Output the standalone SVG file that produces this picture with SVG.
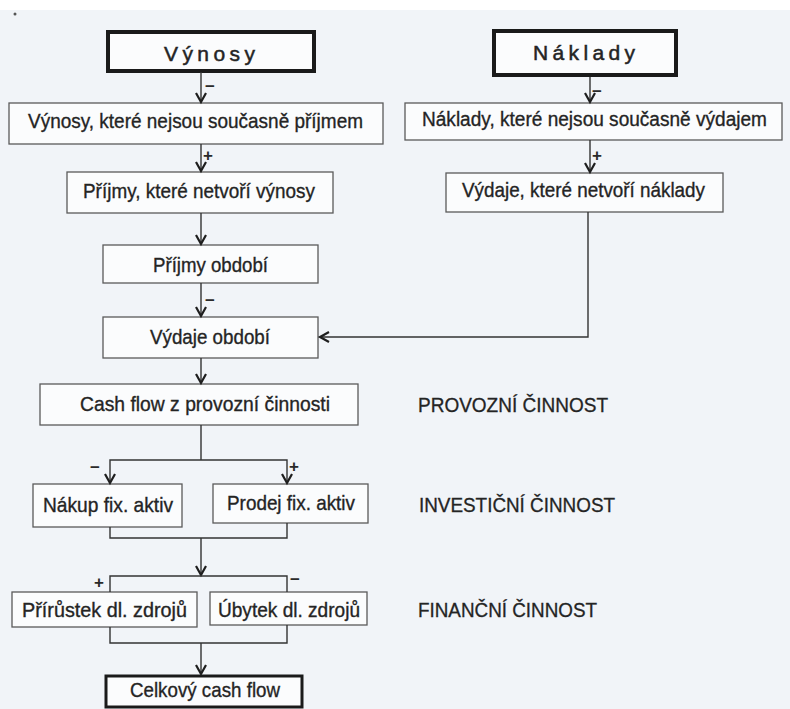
<svg xmlns="http://www.w3.org/2000/svg" xmlns:xlink="http://www.w3.org/1999/xlink" width="790" height="709" viewBox="0 0 790 709">
  <defs>
    <!-- open V arrowheads, tip at the origin -->
    <path id="ahDown" d="M-5,-9 L0,0 L5,-9" fill="none" stroke="#1e1e1e" stroke-width="2.2" stroke-linejoin="miter"/>
    <path id="ahLeft" d="M9,-5 L0,0 L9,5" fill="none" stroke="#1e1e1e" stroke-width="2.2" stroke-linejoin="miter"/>
    <style>
      .box { fill: #fbfcfd; stroke: #5a5a5a; stroke-width: 1.3; }
      .thick { fill: #fbfcfd; stroke: #1a1a1a; stroke-width: 4; }
      .thick3 { fill: #fbfcfd; stroke: #1a1a1a; stroke-width: 3; }
      .t { font-family: "Liberation Sans", Arial, sans-serif; font-size: 21px; fill: #242424; stroke: #242424; stroke-width: 0.35; }
      .h { font-family: "Liberation Sans", Arial, sans-serif; font-size: 21px; fill: #242424; stroke: #242424; stroke-width: 0.5; }
      .lab { font-family: "Liberation Sans", Arial, sans-serif; font-size: 20px; fill: #242424; stroke: #242424; stroke-width: 0.3; }
      .sg { font-family: "Liberation Sans", Arial, sans-serif; font-size: 17px; font-weight: bold; fill: #2a2a2a; }
      .ln { fill: none; stroke: #333; stroke-width: 1.4; }
    </style>
  </defs>

  <!-- page -->
  <rect x="0" y="0" width="790" height="709" fill="#f1f4f8"/>
  <rect x="0" y="0" width="790" height="10" fill="#ffffff"/>
  <circle cx="15" cy="14" r="1.5" fill="#555"/>

  <g id="vynosy">
    <rect class="thick" x="108" y="32" width="206" height="39"/>
    <text class="h" x="164" y="61" textLength="91" lengthAdjust="spacing">Výnosy</text>
  </g>
  <g id="naklady">
    <rect class="thick" x="494" y="31" width="182" height="44"/>
    <text class="h" x="533" y="60" textLength="102" lengthAdjust="spacing">Náklady</text>
  </g>
  <g id="vynosy-neprijem">
    <rect class="box" x="9" y="103" width="374" height="41"/>
    <text class="t" x="28" y="128" font-size="21" textLength="335" lengthAdjust="spacingAndGlyphs">Výnosy, které nejsou současně příjmem</text>
  </g>
  <g id="naklady-nevydaj">
    <rect class="box" x="405" y="103" width="377" height="37"/>
    <text class="t" transform="translate(422,126) scale(0.88,1)" x="0" y="0" font-size="21" textLength="392" lengthAdjust="spacingAndGlyphs">Náklady, které nejsou současně výdajem</text>
  </g>
  <g id="prijmy-nevynosy">
    <rect class="box" x="67" y="172" width="266" height="41"/>
    <text class="t" x="83" y="198" textLength="232" lengthAdjust="spacingAndGlyphs">Příjmy, které netvoří výnosy</text>
  </g>
  <g id="vydaje-nenaklady">
    <rect class="box" x="446" y="173" width="277" height="39"/>
    <text class="t" x="462" y="197" textLength="243" lengthAdjust="spacingAndGlyphs">Výdaje, které netvoří náklady</text>
  </g>
  <g id="prijmy-obdobi">
    <rect class="box" x="103" y="245" width="215" height="38"/>
    <text class="t" x="153" y="272" textLength="115" lengthAdjust="spacingAndGlyphs">Příjmy období</text>
  </g>
  <g id="vydaje-obdobi">
    <rect class="box" x="103" y="317" width="215" height="41"/>
    <text class="t" x="150" y="344" textLength="120" lengthAdjust="spacingAndGlyphs">Výdaje období</text>
  </g>
  <g id="cf-provozni">
    <rect class="box" x="40" y="384" width="318" height="41"/>
    <text class="t" x="80" y="411" font-size="20" textLength="250" lengthAdjust="spacingAndGlyphs">Cash flow z provozní činnosti</text>
  </g>
  <g id="nakup">
    <rect class="box" x="33" y="484" width="149" height="43"/>
    <text class="t" x="43" y="512" textLength="130" lengthAdjust="spacingAndGlyphs">Nákup fix. aktiv</text>
  </g>
  <g id="prodej">
    <rect class="box" x="213" y="484" width="155" height="39"/>
    <text class="t" x="227" y="510" textLength="128" lengthAdjust="spacingAndGlyphs">Prodej fix. aktiv</text>
  </g>
  <g id="prirustek">
    <rect class="box" x="12" y="592" width="185" height="35"/>
    <text class="t" x="22" y="617" font-size="20" textLength="165" lengthAdjust="spacingAndGlyphs">Přírůstek dl. zdrojů</text>
  </g>
  <g id="ubytek">
    <rect class="box" x="210" y="592" width="157" height="33"/>
    <text class="t" x="218" y="617" font-size="20" textLength="142" lengthAdjust="spacingAndGlyphs">Úbytek dl. zdrojů</text>
  </g>
  <g id="celkovy">
    <rect class="thick3" x="106" y="676" width="196" height="31"/>
    <text class="t" x="130" y="697" font-size="19" textLength="150" lengthAdjust="spacingAndGlyphs">Celkový cash flow</text>
  </g>

  <!-- connectors, drawn above the boxes so the arrow tips touch the edges -->
  <g id="connectors">
    <path class="ln" d="M201,72 V102"/>
    <use xlink:href="#ahDown" href="#ahDown" x="201" y="102"/>
    <path class="ln" d="M590,77 V102"/>
    <use xlink:href="#ahDown" href="#ahDown" x="590" y="102"/>
    <path class="ln" d="M201,144 V171"/>
    <use xlink:href="#ahDown" href="#ahDown" x="201" y="171"/>
    <path class="ln" d="M590,140 V172"/>
    <use xlink:href="#ahDown" href="#ahDown" x="590" y="172"/>
    <path class="ln" d="M201,213 V244"/>
    <use xlink:href="#ahDown" href="#ahDown" x="201" y="244"/>
    <path class="ln" d="M201,283 V316"/>
    <use xlink:href="#ahDown" href="#ahDown" x="201" y="316"/>
    <path class="ln" d="M588,212 V337 H320"/>
    <use xlink:href="#ahLeft" href="#ahLeft" x="320" y="337"/>
    <path class="ln" d="M201,358 V383"/>
    <use xlink:href="#ahDown" href="#ahDown" x="201" y="383"/>
    <!-- investing split -->
    <path class="ln" d="M201,425 V460 M110,483 V460 H287 V483"/>
    <use xlink:href="#ahDown" href="#ahDown" x="110" y="483"/>
    <use xlink:href="#ahDown" href="#ahDown" x="287" y="483"/>
    <!-- investing merge -->
    <path class="ln" d="M110,527 V538 H287 V523 M201,538 V575"/>
    <use xlink:href="#ahDown" href="#ahDown" x="201" y="575"/>
    <!-- financing split -->
    <path class="ln" d="M110,592 V576 H287 V592"/>
    <!-- financing merge -->
    <path class="ln" d="M110,627 V643 H287 V625 M201,643 V674"/>
    <use xlink:href="#ahDown" href="#ahDown" x="201" y="674"/>

    <!-- signs -->
    <text class="sg" x="205" y="92">−</text>
    <text class="sg" x="592" y="97">−</text>
    <text class="sg" x="203" y="161">+</text>
    <text class="sg" x="592" y="161">+</text>
    <text class="sg" x="205" y="306">−</text>
    <text class="sg" x="90" y="473">−</text>
    <text class="sg" x="289" y="472">+</text>
    <text class="sg" x="94" y="588">+</text>
    <text class="sg" x="290" y="585">−</text>
  </g>

  <!-- activity labels -->
  <text class="lab" x="418" y="412" textLength="190" lengthAdjust="spacingAndGlyphs">PROVOZNÍ ČINNOST</text>
  <text class="lab" x="419" y="512" textLength="196" lengthAdjust="spacingAndGlyphs">INVESTIČNÍ ČINNOST</text>
  <text class="lab" x="418" y="617" textLength="179" lengthAdjust="spacingAndGlyphs">FINANČNÍ ČINNOST</text>
</svg>
